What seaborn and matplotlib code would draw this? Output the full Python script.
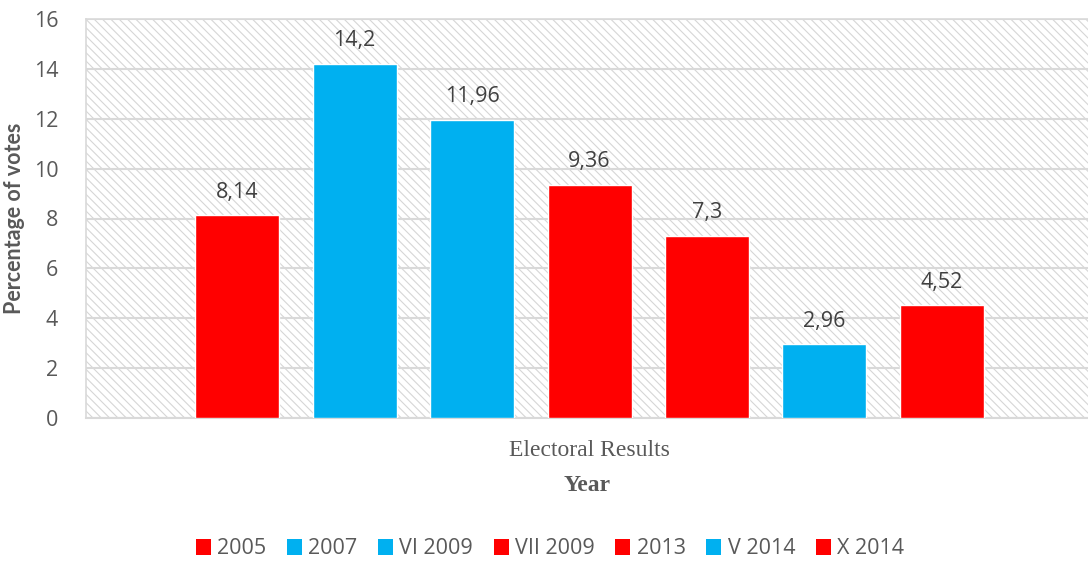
import matplotlib
matplotlib.use("Agg")
import matplotlib.pyplot as plt
from matplotlib.patches import Rectangle, Patch
import seaborn as sns
import pandas as pd

# Election data
group = ["Electoral Results"]
years = ["2005", "2007", "VI 2009", "VII 2009", "2013", "V 2014", "X 2014"]
votes = [8.14, 14.2, 11.96, 9.36, 7.3, 2.96, 4.52]
bar_colors = ["#FF0000", "#00B0F0", "#00B0F0", "#FF0000", "#FF0000", "#00B0F0", "#FF0000"]
y_ticks = [0, 2, 4, 6, 8, 10, 12, 14, 16]

df = pd.DataFrame({"group": group * len(years), "year": years, "votes": votes})

sns.set_theme(style="white")
plt.rcParams["font.family"] = ["Open Sans", "DejaVu Sans"]
plt.rcParams["hatch.linewidth"] = 0.8

fig = plt.figure(figsize=(10.88, 5.66), dpi=100)
ax = fig.add_axes([86 / 1088, (566 - 418) / 566, 1 - 86 / 1088, (418 - 19) / 566])

# hatched plot-area background
ax.add_patch(Rectangle((0, 0), 1, 1, transform=ax.transAxes, facecolor="white",
                       edgecolor="#d6d6d6", linewidth=0, hatch="\\\\\\\\", zorder=0))

sns.barplot(data=df, x="group", y="votes", hue="year", hue_order=years,
            palette=dict(zip(years, bar_colors)), width=0.8, gap=0.285,
            saturation=1, legend=False, ax=ax, zorder=3)

for c in ax.containers:
    ax.bar_label(c, labels=[f"{v:g}".replace(".", ",") for v in c.datavalues],
                 padding=9, fontsize=15.5, color="#404040")

ax.set_xlim(-0.4898, 0.4849)
ax.set_ylim(0, 16)
ax.set_yticks(y_ticks)
ax.set_yticklabels([str(t) for t in y_ticks], fontsize=15.5, color="#595959")
ax.yaxis.grid(True, color="#d9d9d9", linewidth=1.5, zorder=1)
ax.set_axisbelow(True)
ax.tick_params(axis="y", length=0, pad=20)
ax.tick_params(axis="x", length=0, pad=16)

for lab in ax.get_xticklabels():
    lab.set_fontfamily("Liberation Serif")
    lab.set_fontsize(17)
    lab.set_color("#595959")

ax.set_xlabel("Year", fontfamily="Liberation Serif", fontsize=17,
              fontweight="bold", color="#595959", labelpad=10)
ax.set_ylabel("Percentage of votes", fontfamily="Lato", fontsize=15.5,
              fontweight="bold", color="#595959")
ax.yaxis.set_label_coords(-0.061, 0.5)

for side in ["left", "top"]:
    ax.spines[side].set_color("#d9d9d9")
    ax.spines[side].set_linewidth(1.2)
ax.spines["right"].set_visible(False)
ax.spines["bottom"].set_color("#d9d9d9")
ax.spines["bottom"].set_linewidth(1.5)

handles = [Patch(facecolor=c, edgecolor="none", label=y) for y, c in zip(years, bar_colors)]
fig.legend(handles=handles, loc="center", bbox_to_anchor=(550 / 1088, 1 - 549 / 566),
           ncol=7, frameon=False, fontsize=15.5, handlelength=0.7, handleheight=0.7,
           handletextpad=0.3, columnspacing=0.95, labelcolor="#595959")

fig.savefig("out.png", dpi=100)
